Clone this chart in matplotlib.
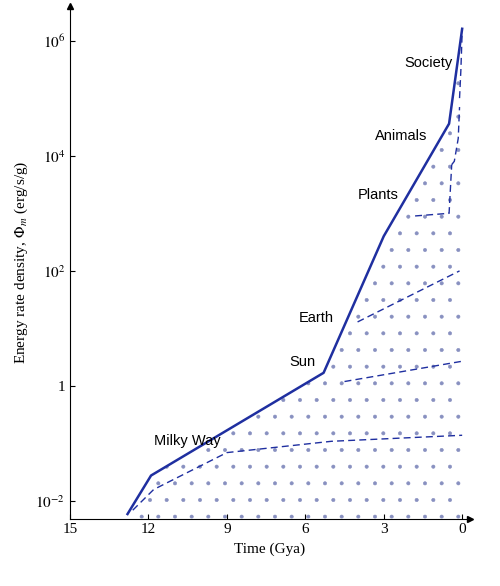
import matplotlib
matplotlib.use('Agg')
import matplotlib.pyplot as plt

plt.rcParams['font.family'] = ['Liberation Serif', 'DejaVu Serif']
plt.rcParams['mathtext.fontset'] = 'stix'
plt.rcParams['hatch.linewidth'] = 0.4

solid_t = [12.8, 11.9, 5.3, 3.0, 0.5, 0.0]
solid_v = [0.006, 0.028, 1.7, 400, 36000, 1.6e6]

mw_t = [12.6, 11.8, 9.0, 5.0, 0.0]
mw_v = [0.007, 0.016, 0.07, 0.11, 0.14]
sun_t = [4.5, 0.0]
sun_v = [1.2, 2.7]
earth_t = [4.0, 0.1]
earth_v = [13, 100]
plants_t = [1.8, 0.5, 0.4]
plants_v = [900, 1000, 7000]
animals_t = [0.4, 0.3, 0.15, 0.1]
animals_v = [7000, 8000, 20000, 70000]
society_t = [0.1, 0.05, 0.0]
society_v = [100000, 300000, 1.4e6]

labels = ['Milky Way', 'Sun', 'Earth', 'Plants', 'Animals', 'Society']
label_t = [10.5, 6.1, 5.6, 3.2, 2.35, 1.3]
label_v = [0.11, 2.6, 15, 2100, 22000, 400000]

fig = plt.figure(figsize=(5.0, 5.86), dpi=100)
ax = fig.add_axes([0.14, 0.115, 0.80, 0.875])
c = '#1f2fa0'

ax.fill_between(solid_t, solid_v, 0.005, color='none', edgecolor='#8890c0',
                hatch='.', linewidth=0)
ax.plot(solid_t, solid_v, color=c, lw=1.8)
for t, v in [(mw_t, mw_v), (sun_t, sun_v), (earth_t, earth_v),
             (plants_t, plants_v), (animals_t, animals_v), (society_t, society_v)]:
    ax.plot(t, v, color=c, lw=1, ls=(0, (5, 3)))
for s, t, v in zip(labels, label_t, label_v):
    ax.text(t, v, s, fontsize=10.5, ha='center', va='center',
            family=['Liberation Sans', 'DejaVu Sans'])

ax.set_yscale('log')
ax.set_xlim(15, -0.3)
ax.set_ylim(0.005, 4e6)
ax.set_xticks([15, 12, 9, 6, 3, 0])
ax.set_yticks([1e-2, 1, 1e2, 1e4, 1e6])
ax.set_yticklabels(['$10^{-2}$', '1', '$10^{2}$', '$10^{4}$', '$10^{6}$'])
ax.minorticks_off()
ax.tick_params(labelsize=11, direction='in')
ax.set_xlabel('Time (Gya)', fontsize=11)
ax.set_ylabel(r'Energy rate density, $\Phi_m$ (erg/s/g)', fontsize=11)
for s in ['top', 'right']:
    ax.spines[s].set_visible(False)
ax.plot(1, 0, '>k', transform=ax.transAxes, clip_on=False, ms=5)
ax.plot(0, 1, '^k', transform=ax.transAxes, clip_on=False, ms=5)
fig.savefig('out.png', dpi=100)
